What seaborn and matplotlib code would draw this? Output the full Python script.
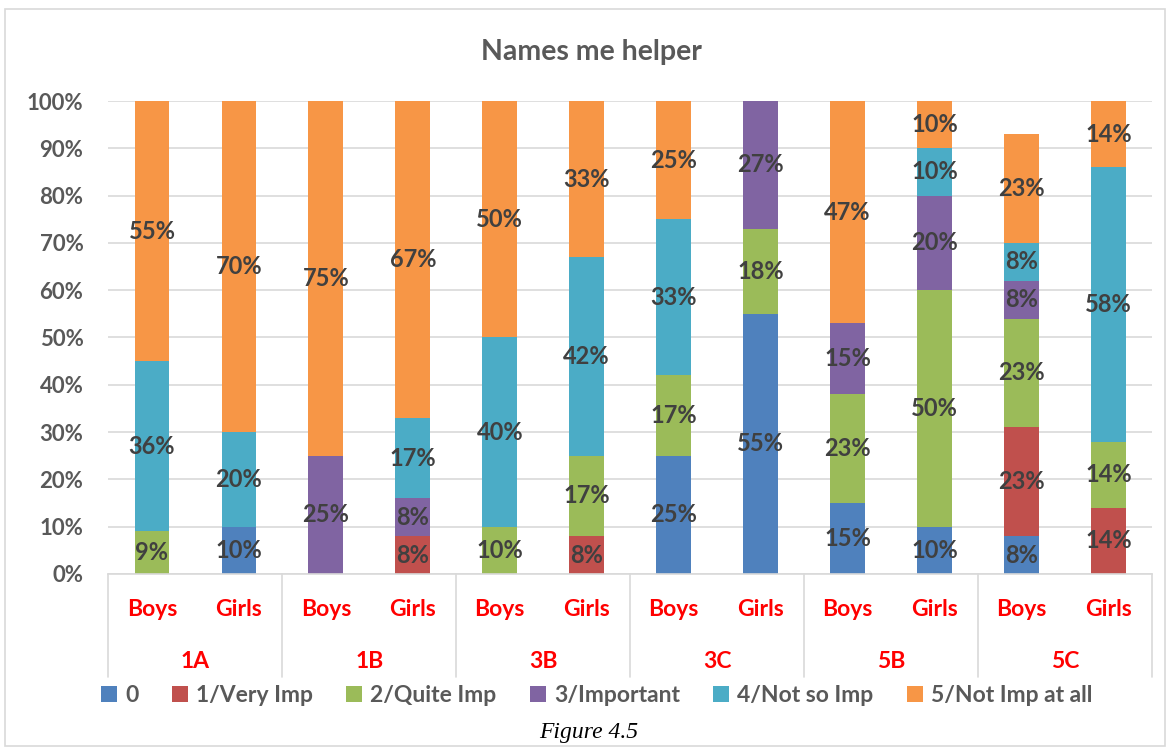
import numpy as np
import pandas as pd
import seaborn as sns
import matplotlib.pyplot as plt
from matplotlib.patches import Patch, Rectangle
from matplotlib.lines import Line2D

# chart data
classes = ['1A', '1B', '3B', '3C', '5B', '5C']
genders = ['Boys', 'Girls']
series_names = ['0', '1/Very Imp', '2/Quite Imp', '3/Important', '4/Not so Imp', '5/Not Imp at all']
series_colors = ['#4F81BD', '#C0504D', '#9BBB59', '#8064A2', '#4BACC6', '#F79646']

# one list per answer, 12 bars: 1A Boys, 1A Girls, 1B Boys, ... 5C Girls
s0 = [0, 10, 0, 0, 0, 0, 25, 55, 15, 10, 8, 0]
s1 = [0, 0, 0, 8, 0, 8, 0, 0, 0, 0, 23, 14]
s2 = [9, 0, 0, 0, 10, 17, 17, 18, 23, 50, 23, 14]
s3 = [0, 0, 25, 8, 0, 0, 0, 27, 15, 20, 8, 0]
s4 = [36, 20, 0, 17, 40, 42, 33, 0, 0, 10, 8, 58]
s5 = [55, 70, 75, 67, 50, 33, 25, 0, 47, 10, 23, 14]

bar_keys = [f'{c} {g}' for c in classes for g in genders]
df = pd.DataFrame({'bar': bar_keys, 's0': s0, 's1': s1, 's2': s2,
                   's3': s3, 's4': s4, 's5': s5})
cols = ['s0', 's1', 's2', 's3', 's4', 's5']
cum = df[cols].cumsum(axis=1)

sns.set_style('white')
plt.rcParams['font.family'] = ['Lato', 'DejaVu Sans']

fig = plt.figure(figsize=(11.7, 7.51), dpi=100)
ax = fig.add_axes([0.0927, 0.2357, 0.8919, 0.6298])

# stacked bars: draw cumulative totals from the top series down
for i in reversed(range(len(cols))):
    sns.barplot(x=df['bar'], y=cum[cols[i]], order=bar_keys, color=series_colors[i],
                saturation=1, width=0.40, ax=ax, linewidth=0)

# value labels at segment centres
grey_txt = '#404040'
for j in range(len(bar_keys)):
    base = 0
    for c in cols:
        v = df.loc[j, c]
        if v > 0:
            ax.text(j, base + v / 2, f'{v}%', ha='center', va='center',
                    fontsize=17, fontweight='bold', color=grey_txt)
        base += v

ax.set_ylim(0, 100)
ax.set_xlim(-0.5, len(bar_keys) - 0.5)
ax.set_yticks(np.arange(0, 101, 10))
ax.set_yticklabels([f'{t}%' for t in range(0, 101, 10)])
ax.tick_params(axis='y', length=0, pad=18, labelsize=16, labelcolor='#595959')
for lab in ax.get_yticklabels():
    lab.set_fontweight('bold')
ax.set_xticks([])
ax.set_xlabel('')
ax.set_ylabel('')
ax.yaxis.grid(True, color='#D9D9D9', linewidth=1.2)
ax.set_axisbelow(True)
for s in ['top', 'right', 'left']:
    ax.spines[s].set_visible(False)
ax.spines['bottom'].set_color('#D9D9D9')
ax.spines['bottom'].set_linewidth(1.2)

# two-level category axis
trans = ax.get_xaxis_transform()
for j, key in enumerate(bar_keys):
    ax.text(j, -0.075, key.split()[1], transform=trans, ha='center', va='center',
            fontsize=16.5, fontweight='bold', color='#FF0000')
for k, c in enumerate(classes):
    ax.text(2 * k + 0.5, -0.185, c, transform=trans, ha='center', va='center',
            fontsize=16.5, fontweight='bold', color='#FF0000')
for k in range(len(classes) + 1):
    ax.add_line(Line2D([2 * k - 0.5, 2 * k - 0.5], [0, -0.218], transform=trans,
                       color='#D9D9D9', linewidth=1.2, clip_on=False))

fig.text(0.5056, 0.931, 'Names me helper', ha='center', va='center',
         fontsize=20.5, fontweight='bold', color='#595959')

handles = [Patch(facecolor=col, edgecolor='none') for col in series_colors]
leg = fig.legend(handles, series_names, loc='center', bbox_to_anchor=(0.51, 0.074),
                 ncol=6, frameon=False, handlelength=0.7, handleheight=0.7,
                 handletextpad=0.35, columnspacing=1.45,
                 prop={'size': 16.5, 'weight': 'bold', 'family': ['Lato']})
for t in leg.get_texts():
    t.set_color('#595959')

fig.text(0.503, 0.025, 'Figure 4.5', ha='center', va='center', fontsize=17,
         style='italic', family=['Liberation Serif'], color='black')

fig.patches.append(Rectangle((0.004, 0.006), 0.992, 0.982, transform=fig.transFigure,
                             fill=False, edgecolor='#D9D9D9', linewidth=1.2))

fig.savefig('out.png', dpi=100)
